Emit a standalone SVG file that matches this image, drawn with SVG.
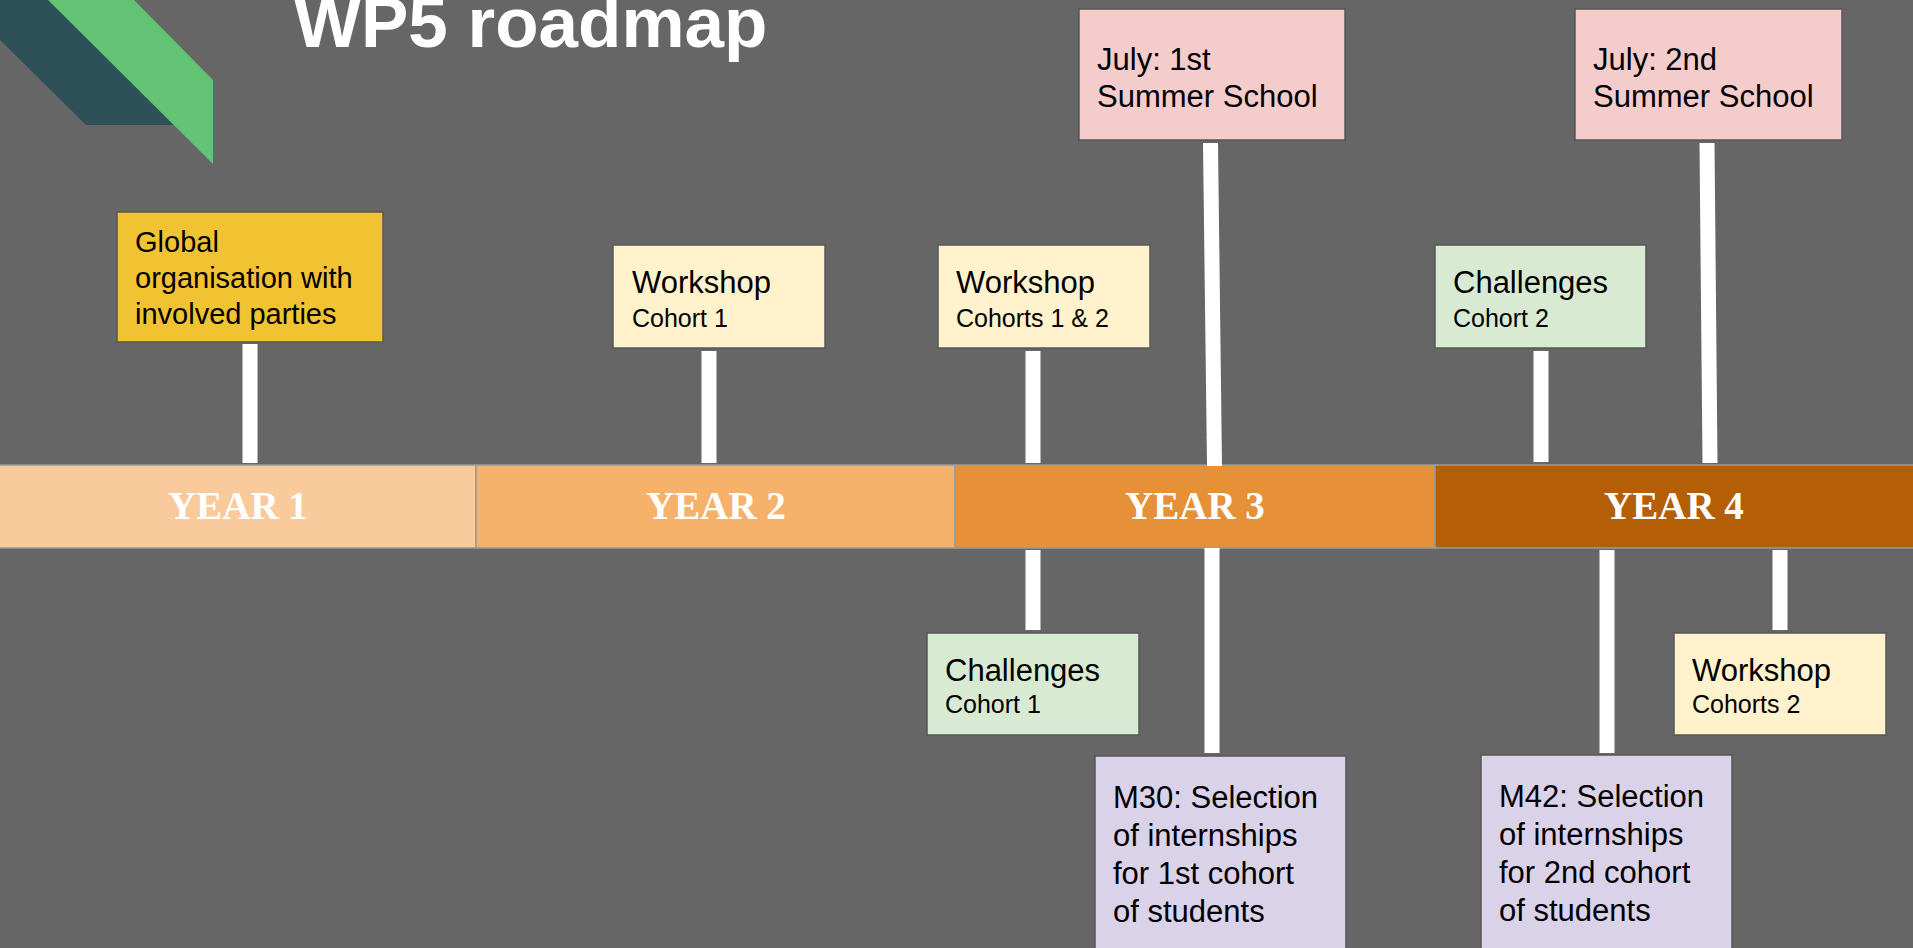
<svg xmlns="http://www.w3.org/2000/svg" width="1913" height="948" viewBox="0 0 1913 948">
<style>
.box{stroke:#575757;stroke-width:1.5}
.t{font-family:"Liberation Sans",Arial,sans-serif;fill:#000}
.big{font-size:31px}
.sub{font-size:25px}
.yr{font-family:"Liberation Serif","Times New Roman",serif;font-weight:bold;font-size:39px;fill:#fff;text-anchor:middle}
.seg{stroke:#9a9a9a;stroke-width:1.5}
.conn line{stroke:#fff;stroke-width:15;stroke-linecap:butt}
</style>
<rect width="1913" height="948" fill="#666666"/>
<g id="logo">
<polygon points="0,0 60,0 185,125 86,125 0,40" fill="#2d5157"/>
<polygon points="48,0 134,0 213,80 213,164" fill="#63c374"/>
</g>
<text x="294" y="47" font-family="Liberation Sans,Arial,sans-serif" font-weight="bold" font-size="71" fill="#fff">WP5 roadmap</text>
<g id="timeline">
<rect class="seg" x="-2" y="465" width="478" height="83" fill="#f9cb9c"/>
<rect class="seg" x="476" y="465" width="479" height="83" fill="#f6b26b"/>
<rect class="seg" x="955" y="465" width="480" height="83" fill="#e69138"/>
<rect class="seg" x="1435" y="465" width="480" height="83" fill="#b45f06"/>
<text class="yr" x="238" y="519">YEAR 1</text>
<text class="yr" x="716" y="519">YEAR 2</text>
<text class="yr" x="1195" y="519">YEAR 3</text>
<text class="yr" x="1674" y="519">YEAR 4</text>
</g>
<g id="connectors" class="conn">
<line x1="250" y1="344" x2="250" y2="463"/>
<line x1="709" y1="351" x2="709" y2="463"/>
<line x1="1033" y1="351" x2="1033" y2="463"/>
<line x1="1210.5" y1="143" x2="1214.5" y2="466"/>
<line x1="1541" y1="351" x2="1541" y2="462"/>
<line x1="1707" y1="143" x2="1710" y2="463"/>
<line x1="1033" y1="550" x2="1033" y2="630"/>
<line x1="1212" y1="548" x2="1212" y2="753"/>
<line x1="1607" y1="550" x2="1607" y2="753"/>
<line x1="1780" y1="550" x2="1780" y2="630"/>
</g>
<g id="global">
<rect class="box" x="117" y="212" width="266" height="130" fill="#f1c232"/>
<text class="t" x="135" font-size="29"><tspan x="135" y="252">Global</tspan><tspan x="135" y="288">organisation with</tspan><tspan x="135" y="324">involved parties</tspan></text>
</g>
<g id="workshop1">
<rect class="box" x="613" y="245" width="212" height="103" fill="#fff2cc"/>
<text class="t big" x="632" y="293">Workshop</text>
<text class="t sub" x="632" y="327">Cohort 1</text>
</g>
<g id="workshop12">
<rect class="box" x="938" y="245" width="212" height="103" fill="#fff2cc"/>
<text class="t big" x="956" y="293">Workshop</text>
<text class="t sub" x="956" y="327">Cohorts 1 &amp; 2</text>
</g>
<g id="summer1">
<rect class="box" x="1079" y="9" width="266" height="131" fill="#f4cccc"/>
<text class="t big" x="1097" y="70">July: 1st</text>
<text class="t big" x="1097" y="107">Summer School</text>
</g>
<g id="challenges2">
<rect class="box" x="1435" y="245" width="211" height="103" fill="#d9ead3"/>
<text class="t big" x="1453" y="293">Challenges</text>
<text class="t sub" x="1453" y="327">Cohort 2</text>
</g>
<g id="summer2">
<rect class="box" x="1575" y="9" width="267" height="131" fill="#f4cccc"/>
<text class="t big" x="1593" y="70">July: 2nd</text>
<text class="t big" x="1593" y="107">Summer School</text>
</g>
<g id="challenges1">
<rect class="box" x="927" y="633" width="212" height="102" fill="#d9ead3"/>
<text class="t big" x="945" y="681">Challenges</text>
<text class="t sub" x="945" y="713">Cohort 1</text>
</g>
<g id="m30">
<rect class="box" x="1095" y="756" width="251" height="220" fill="#d9d2e9"/>
<text class="t big"><tspan x="1113" y="808">M30: Selection</tspan><tspan x="1113" y="846">of internships</tspan><tspan x="1113" y="884">for 1st cohort</tspan><tspan x="1113" y="922">of students</tspan></text>
</g>
<g id="m42">
<rect class="box" x="1481" y="755" width="251" height="220" fill="#d9d2e9"/>
<text class="t big"><tspan x="1499" y="807">M42: Selection</tspan><tspan x="1499" y="845">of internships</tspan><tspan x="1499" y="883">for 2nd cohort</tspan><tspan x="1499" y="921">of students</tspan></text>
</g>
<g id="workshop2">
<rect class="box" x="1674" y="633" width="212" height="102" fill="#fff2cc"/>
<text class="t big" x="1692" y="681">Workshop</text>
<text class="t sub" x="1692" y="713">Cohorts 2</text>
</g>
</svg>
